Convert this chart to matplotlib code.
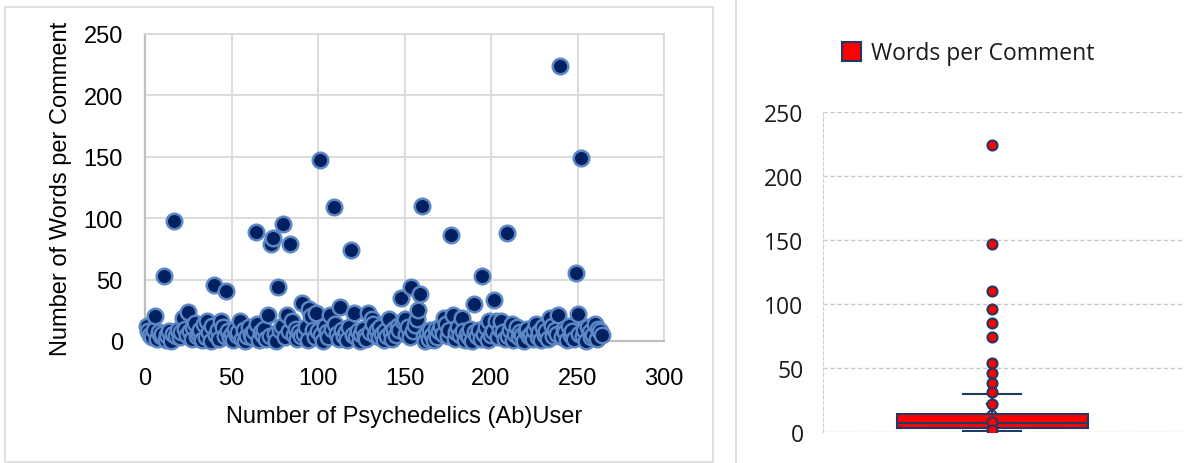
import matplotlib
matplotlib.use('Agg')
import matplotlib.pyplot as plt
from matplotlib.patches import Rectangle
from matplotlib.lines import Line2D

# words per comment, one value per (ab)user
words = [12, 8, 5, 3, 9, 20, 2, 7, 4, 6,
         53, 1, 5, 8, 0, 6, 98, 4, 9, 3,
         7, 19, 10, 5, 24, 8, 2, 11, 15, 4,
         6, 9, 1, 14, 3, 16, 7, 0, 12, 46,
         5, 9, 2, 16, 11, 4, 41, 8, 3, 6,
         1, 10, 5, 7, 16, 2, 9, 0, 4, 11,
         6, 3, 8, 89, 14, 1, 7, 5, 10, 2,
         21, 4, 79, 84, 6, 0, 44, 9, 12, 95,
         3, 21, 8, 79, 16, 5, 10, 2, 7, 4,
         31, 6, 11, 1, 26, 20, 9, 3, 23, 8,
         147, 5, 0, 12, 7, 3, 21, 10, 109, 14,
         6, 2, 28, 9, 4, 7, 1, 11, 74, 5,
         23, 3, 8, 0, 6, 10, 4, 2, 23, 7,
         18, 14, 5, 9, 3, 11, 6, 1, 8, 4,
         18, 7, 2, 10, 5, 12, 9, 35, 16, 18,
         6, 11, 3, 44, 8, 13, 18, 25, 38, 110,
         4, 0, 7, 2, 9, 5, 1, 10, 3, 8,
         12, 6, 19, 14, 4, 9, 86, 21, 2, 7,
         11, 5, 19, 8, 1, 6, 3, 10, 0, 30,
         7, 4, 9, 2, 53, 6, 11, 1, 16, 5,
         8, 33, 16, 3, 10, 16, 7, 2, 88, 4,
         9, 14, 1, 6, 11, 3, 7, 5, 0, 8,
         10, 4, 6, 2, 9, 14, 3, 7, 1, 11,
         5, 8, 2, 19, 12, 4, 9, 6, 21, 224,
         3, 10, 7, 1, 12, 5, 8, 2, 55, 22,
         6, 149, 4, 9, 0, 11, 7, 3, 5, 14,
         2, 10, 8, 5]
users = list(range(1, len(words) + 1))

# box plot stats as drawn in the right panel
q1, med, q3 = 3.4, 6.8, 13.8
whis_lo, whis_hi = 1, 29.7
mean_val = 18
outliers = [224, 147, 110, 96, 85, 74, 54, 46, 38, 31, 22]
inner_pts = [8, 1.5]

xticks = [0, 50, 100, 150, 200, 250, 300]
yticks = [0, 50, 100, 150, 200, 250]

W, H = 1192, 464
fig = plt.figure(figsize=(W / 100, H / 100), dpi=100)
fig.patch.set_facecolor('white')

# panel frames
fig.patches.append(Rectangle((5 / W, 1 - 463 / H), 708 / W, 455 / H, transform=fig.transFigure,
                             fill=False, edgecolor='#D9D9D9', linewidth=1.2))
fig.lines.append(Line2D([736 / W, 736 / W], [0, 1], transform=fig.transFigure, color='#D9D9D9', linewidth=1.2))

lfont = ['Liberation Sans', 'DejaVu Sans']
rfont = ['Open Sans', 'DejaVu Sans']

# ---- left: scatter ----
ax = fig.add_axes([145 / W, 1 - 342 / H, 519 / W, 307 / H])
ax.scatter(users, words, s=125, facecolor='#002060', edgecolor='#5B87C5', linewidth=1.8, zorder=3, clip_on=False)
ax.set_xlim(0, 300)
ax.set_ylim(0, 250)
ax.set_xticks(xticks)
ax.set_yticks(yticks)
ax.grid(True, color='#D9D9D9', linewidth=1.3)
ax.set_axisbelow(True)
for sp in ['top', 'right']:
    ax.spines[sp].set_color('#D9D9D9')
    ax.spines[sp].set_linewidth(1.3)
for sp in ['left', 'bottom']:
    ax.spines[sp].set_color('#BFBFBF')
    ax.spines[sp].set_linewidth(1.6)
ax.tick_params(axis='x', length=0, labelsize=17, pad=19)
ax.tick_params(axis='y', length=0, labelsize=17, pad=16)
for t in ax.get_xticklabels() + ax.get_yticklabels():
    t.set_family(lfont)
ax.set_xlabel('Number of Psychedelics (Ab)User', fontsize=17, family=lfont, labelpad=11)
ax.set_ylabel('Number of Words per Comment', fontsize=17, family=lfont, labelpad=8)

# ---- right: box plot ----
bx = fig.add_axes([823 / W, 1 - 433 / H, 360 / W, 320 / H])
stats = [dict(med=med, q1=q1, q3=q3, whislo=whis_lo, whishi=whis_hi, mean=mean_val, fliers=[])]
bx.bxp(stats, positions=[1], widths=0.53, patch_artist=True, showmeans=True, showfliers=False,
       boxprops=dict(facecolor='#FF0000', edgecolor='#1F3864', linewidth=1.5),
       medianprops=dict(color='#1F3864', linewidth=1.5),
       whiskerprops=dict(color='#1F3864', linewidth=1.5),
       capprops=dict(color='#1F3864', linewidth=1.5),
       capwidths=0.16,
       meanprops=dict(marker='x', markeredgecolor='#1F3864', markersize=8, markeredgewidth=1.5))
bx.scatter([1] * len(outliers), outliers, s=52, facecolor='#FF0000', edgecolor='#1F3864', linewidth=1.5, zorder=4)
bx.scatter([1] * len(inner_pts), inner_pts, s=52, facecolor='#FF0000', edgecolor='#1F3864', linewidth=1.5, zorder=4)
bx.set_xlim(0.53, 1.53)
bx.set_ylim(0, 250)
bx.set_yticks(yticks)
bx.set_xticks([])
bx.grid(True, axis='y', color='#C8C8C8', linestyle=(0, (3, 2)), linewidth=1)
bx.set_axisbelow(True)
for sp in ['top', 'right', 'bottom']:
    bx.spines[sp].set_visible(False)
bx.spines['left'].set_color('#D0D0D0')
bx.spines['left'].set_linestyle((0, (3, 2)))
bx.tick_params(length=0, labelsize=16.5, pad=14, labelcolor='#1A1A1A')
for t in bx.get_yticklabels():
    t.set_family(rfont)

# legend
fig.patches.append(Rectangle((842 / W, 1 - 62 / H), 19 / W, 19 / H, transform=fig.transFigure,
                             facecolor='#FF0000', edgecolor='#1F3864', linewidth=1.5))
fig.text(871 / W, 1 - 54 / H, 'Words per Comment', fontsize=16.5, family=rfont, color='#1A1A1A', va='center')

fig.savefig('out.png', dpi=100)
